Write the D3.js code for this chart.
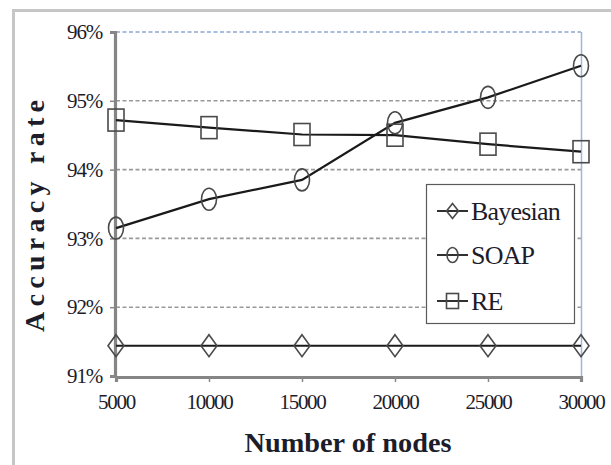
<!DOCTYPE html>
<html><head><meta charset="utf-8">
<script src="https://cdn.jsdelivr.net/npm/d3@7"></script>
<style>body{margin:0;background:#fff}svg{display:block}</style>
</head><body>
<svg id="c" width="611" height="465"></svg>
<script>
const categories = ["5000","10000","15000","20000","25000","30000"];
const bayesian = [91.44,91.44,91.44,91.44,91.44,91.44];
const soap = [93.15,93.57,93.85,94.68,95.05,95.51];
const re = [94.72,94.61,94.51,94.50,94.37,94.26];
const yTicks = [91,92,93,94,95,96];
const seriesNames = ["Bayesian","SOAP","RE"];

const FONT = '"Liberation Serif"';
const svg = d3.select("#c");
const x = d3.scalePoint().domain(categories).range([116,581]).padding(0);
const y = d3.scaleLinear().domain([91,96]).range([376,32]);

svg.append("rect").attr("x",13.5).attr("y",10.5).attr("width",700).attr("height",600)
  .attr("fill","none").attr("stroke","#c6c6c6").attr("stroke-width",3);

svg.append("g").selectAll("line").data(yTicks.filter(d=>d>91)).join("line")
  .attr("x1",116).attr("x2",581).attr("y1",d=>y(d)).attr("y2",d=>y(d))
  .attr("stroke",d=>d===96?"#8fa6d4":"#9a9a9a").attr("stroke-width",1.6)
  .attr("stroke-dasharray","4,2.5");

svg.append("line").attr("x1",581.5).attr("x2",581.5).attr("y1",y(96)).attr("y2",y(91))
  .attr("stroke","#9fb4e0").attr("stroke-width",1.5);

const yAxis = d3.axisLeft(y).tickValues(yTicks).tickFormat(d=>d+"%").tickSize(5).tickPadding(8);
const gy = svg.append("g").attr("transform","translate(115,0)").call(yAxis);
gy.select(".domain").attr("stroke","#858585").attr("stroke-width",3.2);
gy.selectAll(".tick line").attr("stroke","#888").attr("stroke-width",1.5);
gy.selectAll(".tick text").style("font-family",FONT).style("font-size","21px")
  .attr("fill","#1c1c2a").style("letter-spacing","-1.2px");

const xAxis = d3.axisBottom(x).tickSize(5).tickPadding(12);
const gx = svg.append("g").attr("transform","translate(0,377)").call(xAxis);
gx.select(".domain").attr("stroke","#858585").attr("stroke-width",3.2);
gx.selectAll(".tick line").attr("stroke","#888").attr("stroke-width",1.5);
gx.selectAll(".tick text").style("font-family",FONT).style("font-size","21px")
  .attr("fill","#1c1c2a").style("letter-spacing","-1.3px");

const line = d3.line().x((d,i)=>x(categories[i])).y(d=>y(d));
const data = [bayesian, soap, re];
data.forEach(s=>{
  svg.append("path").datum(s).attr("d",line).attr("fill","none")
    .attr("stroke","#1a1a1a").attr("stroke-width",2.2);
});

function marker(g, type, cx, cy, w, h){
  let el;
  if(type===0){
    el = g.append("path").attr("d",`M${cx},${cy-h/2}L${cx+w/2},${cy}L${cx},${cy+h/2}L${cx-w/2},${cy}Z`);
  } else if(type===1){
    el = g.append("ellipse").attr("cx",cx).attr("cy",cy).attr("rx",w/2).attr("ry",h/2);
  } else {
    el = g.append("rect").attr("x",cx-w/2).attr("y",cy-h/2).attr("width",w).attr("height",h);
  }
  el.attr("fill","none").attr("stroke","#4a4a4a").attr("stroke-width",1.6);
}
const mg = svg.append("g");
data.forEach((s,si)=>{
  s.forEach((v,i)=>{
    marker(mg, si, x(categories[i]), y(v), si===1?15:16, 22);
  });
});

const lg = svg.append("g");
lg.append("rect").attr("x",426.5).attr("y",184.5).attr("width",148).attr("height",139)
  .attr("fill","#fff").attr("stroke","#5a5a5a").attr("stroke-width",1.2);
const ly = [211,255,301];
seriesNames.forEach((n,i)=>{
  lg.append("line").attr("x1",437).attr("x2",468).attr("y1",ly[i]).attr("y2",ly[i])
    .attr("stroke","#1a1a1a").attr("stroke-width",1.8);
  marker(lg, i, 452.5, ly[i], i===1?11:12, 15);
  lg.append("text").attr("x",471).attr("y",ly[i]+9).text(n)
    .style("font-family",FONT).style("font-size","26px").attr("fill","#1c1c2a")
    .style("letter-spacing","-0.8px");
});

svg.append("text").attr("transform","translate(44,216) rotate(-90)").attr("text-anchor","middle")
  .style("font-family",FONT).style("font-weight","bold").style("font-size","28px")
  .attr("fill","#1c1c2a").attr("textLength",232).attr("lengthAdjust","spacing")
  .text("Accuracy rate");
svg.append("text").attr("x",348).attr("y",452).attr("text-anchor","middle")
  .style("font-family",FONT).style("font-weight","bold").style("font-size","28px")
  .attr("fill","#1c1c2a").attr("textLength",207).attr("lengthAdjust","spacingAndGlyphs")
  .text("Number of nodes");
</script>
</body></html>
